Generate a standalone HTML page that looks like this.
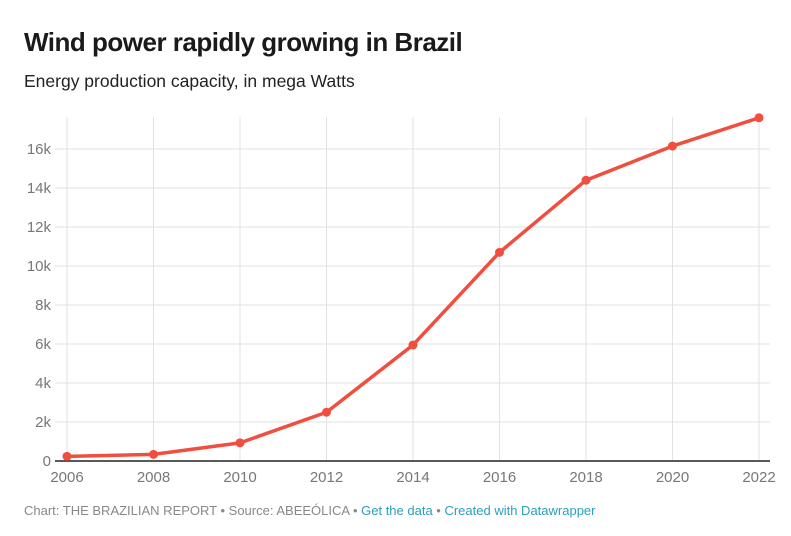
<!DOCTYPE html>
<html><head><meta charset="utf-8"><style>
body{margin:0;width:791px;height:536px;background:#fff;font-family:"Liberation Sans",sans-serif;overflow:hidden}
#title{position:absolute;left:24px;top:27px;font-size:26px;font-weight:bold;color:#1a1a1a;letter-spacing:-0.5px}
#sub{position:absolute;left:24px;top:71px;font-size:17.5px;color:#222}
#foot{position:absolute;left:24px;top:503px;font-size:13px;color:#888}
#foot span{color:#2a9fbc}
svg{position:absolute;left:0;top:0}
</style></head><body>
<div id="title">Wind power rapidly growing in Brazil</div>
<div id="sub">Energy production capacity, in mega Watts</div>
<svg id="c" width="791" height="536"></svg>
<div id="foot">Chart: THE BRAZILIAN REPORT • Source: ABEEÓLICA • <span>Get the data</span> • <span>Created with Datawrapper</span></div>
<script>
const years=[2006,2008,2010,2012,2014,2016,2018,2020,2022];
const values=[240,340,930,2500,5950,10700,14400,16150,17600];
const yTicks=[0,2000,4000,6000,8000,10000,12000,14000,16000];
const yLabels=["0","2k","4k","6k","8k","10k","12k","14k","16k"];
const NS="http://www.w3.org/2000/svg",svg=document.getElementById('c');
const x=v=>67+(v-2006)*(759-67)/16, y=v=>461-v*(461-149)/16000;
function mk(t,a,p){const e=document.createElementNS(NS,t);for(const k in a)e.setAttribute(k,a[k]);(p||svg).appendChild(e);return e;}
yTicks.forEach((t,i)=>{
 const l=mk('line',{x1:55,x2:770,y1:y(t),y2:y(t),stroke:t?'#e2e2e2':'#222','stroke-width':t?1:1.5});
 
 
 const tx=mk('text',{x:51,y:y(t)+5,'text-anchor':'end','font-size':15,fill:'#777','font-family':'Liberation Sans'});
 tx.textContent=yLabels[i];
 
 
});
years.forEach(yr=>{
 const l=mk('line',{x1:x(yr),x2:x(yr),y1:117,y2:460,stroke:'#e2e2e2'});
 
 
 const tx=mk('text',{x:x(yr),y:482,'text-anchor':'middle','font-size':15,fill:'#777','font-family':'Liberation Sans'});
 tx.textContent=yr;
 
 
});
svg.appendChild(svg.querySelector('line[stroke="#222"]'));
const p=mk('polyline',{points:years.map((yr,i)=>x(yr)+','+y(values[i])).join(' '),fill:'none',stroke:'#f04f3f','stroke-width':3.5,'stroke-linejoin':'round'});


years.forEach((yr,i)=>{
 const c=mk('circle',{cx:x(yr),cy:y(values[i]),r:4.5,fill:'#f04f3f'});
 
 
});
</script>
</body></html>
